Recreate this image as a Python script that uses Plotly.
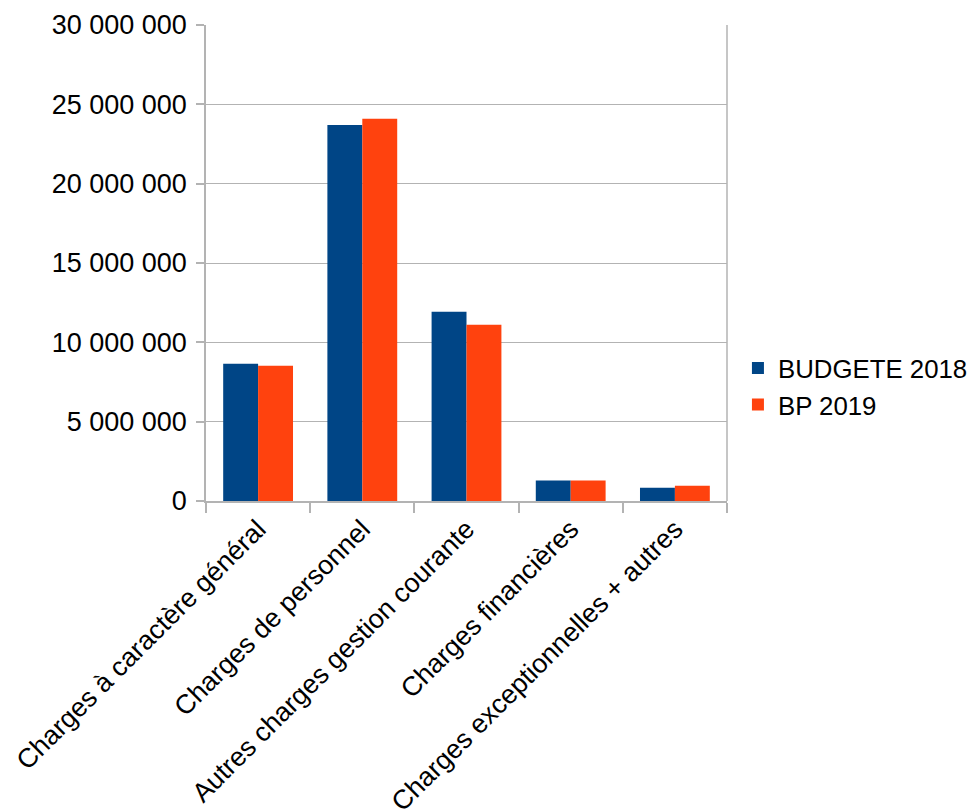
import plotly.graph_objects as go

categories = [
    "Charges à caractère général",
    "Charges de personnel",
    "Autres charges gestion courante",
    "Charges financières",
    "Charges exceptionnelles + autres",
]
budgete_2018 = [8650000, 23700000, 11930000, 1290000, 840000]
bp_2019 = [8530000, 24090000, 11110000, 1290000, 960000]
y_ticks = [0, 5000000, 10000000, 15000000, 20000000, 25000000, 30000000]

fig = go.Figure()
fig.add_trace(go.Bar(name="BUDGETE 2018", x=categories, y=budgete_2018,
                     marker=dict(color="#004586", line=dict(width=0))))
fig.add_trace(go.Bar(name="BP 2019", x=categories, y=bp_2019,
                     marker=dict(color="#ff420e", line=dict(width=0))))

font_family = "Liberation Sans, Arial, sans-serif"
fig.update_layout(
    width=969, height=803,
    margin=dict(l=198, r=250, t=17, b=310, autoexpand=False),
    paper_bgcolor="white", plot_bgcolor="white",
    barmode="group", bargap=0.33, bargroupgap=0,
    separators=", ",
    font=dict(family=font_family, size=26.5, color="black"),
    legend=dict(x=1.021, y=0.24, xanchor="left", yanchor="middle",
                font=dict(size=25.8), tracegroupgap=0, itemsizing="constant"),
    showlegend=True,
)
fig.update_xaxes(
    type="category",
    tickangle=-45,
    tickson="boundaries",
    ticks="outside", ticklen=10, tickcolor="#b3b3b3", tickwidth=1.5,
    showline=True, linecolor="#b3b3b3", linewidth=1.5, mirror=False,
    showgrid=False, automargin=False,
    tickfont=dict(size=26.8, family=font_family),
)
fig.update_yaxes(
    range=[0, 30000000],
    tickvals=y_ticks,
    tickformat=",d",
    ticks="outside", ticklen=8, tickcolor="#b3b3b3", tickwidth=1.5,
    ticklabelstandoff=4,
    showline=True, linecolor="#b3b3b3", linewidth=1.5,
    showgrid=True, gridcolor="#b3b3b3", gridwidth=1,
    zeroline=False, automargin=False,
    tickfont=dict(size=27, family=font_family),
)
# right border of plot area
fig.add_shape(type="line", xref="paper", yref="paper", x0=1, x1=1, y0=0, y1=1,
              line=dict(color="#b3b3b3", width=1.5))

fig.write_html("out.html")
